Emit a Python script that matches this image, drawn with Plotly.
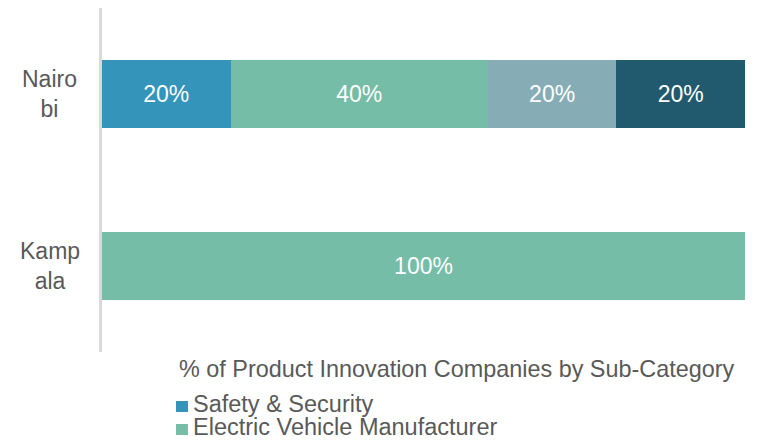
import plotly.graph_objects as go

cities = ["Nairo<br>bi", "Kamp<br>ala"]
sub_categories = [
    "Safety & Security",
    "Electric Vehicle Manufacturer",
    "Sub-Category 3",
    "Sub-Category 4",
]
shares = [
    [20, 0],
    [40, 100],
    [20, 0],
    [20, 0],
]
colors = ["#3494BA", "#75BDA7", "#86ADB6", "#215A6E"]
legend_title = "% of Product Innovation Companies by Sub-Category"

FONT = "Liberation Sans, Arial, sans-serif"
GREY = "#595959"

fig = go.Figure()
for name, vals, color in zip(sub_categories, shares, colors):
    fig.add_trace(
        go.Bar(
            y=cities,
            x=vals,
            name=name,
            orientation="h",
            marker=dict(color=color, line=dict(width=0)),
            text=[f"{v}%" if v else "" for v in vals],
            textposition="inside",
            insidetextanchor="middle",
            textfont=dict(color="white", size=23, family=FONT),
            showlegend=False,
        )
    )

# category labels, centred like the original
for c in cities:
    fig.add_annotation(
        text=c, xref="paper", yref="y", x=-0.081, y=c,
        xanchor="center", yanchor="middle", align="center",
        showarrow=False, font=dict(size=23, color=GREY, family=FONT),
    )

# legend block below the plot (only the first two entries fit in the frame)
fig.add_annotation(
    text=legend_title, xref="paper", yref="paper", x=0.117, y=-0.0494,
    xanchor="left", yanchor="middle", showarrow=False,
    font=dict(size=23.4, color=GREY, family=FONT),
)
legend_rows = [(-0.1512, -0.1744, -0.1424), (-0.2180, -0.2413, -0.2093)]
for (yc, y0, y1), name, color in zip(legend_rows, sub_categories, colors):
    fig.add_shape(
        type="rect", xref="paper", yref="paper",
        x0=0.1151, x1=0.1337, y0=y0, y1=y1,
        fillcolor=color, line=dict(width=0),
    )
    fig.add_annotation(
        text=name, xref="paper", yref="paper", x=0.1384, y=yc,
        xanchor="left", yanchor="middle", showarrow=False,
        font=dict(size=23.5, color=GREY, family=FONT),
    )

# page body adds an 8px margin, so the figure is sized to the visible area
fig.update_layout(
    barmode="stack",
    bargap=0.605,
    width=749,
    height=432,
    margin=dict(l=94, r=12, t=0, b=88),
    plot_bgcolor="white",
    paper_bgcolor="white",
    font=dict(family=FONT, size=23, color=GREY),
    uniformtext=dict(mode="show", minsize=20),
    showlegend=False,
)
fig.update_xaxes(range=[0, 100], visible=False)
fig.update_yaxes(
    autorange="reversed",
    showline=True,
    linecolor="#D9D9D9",
    linewidth=3,
    ticks="",
    showticklabels=False,
)

fig.write_html("out.html")
